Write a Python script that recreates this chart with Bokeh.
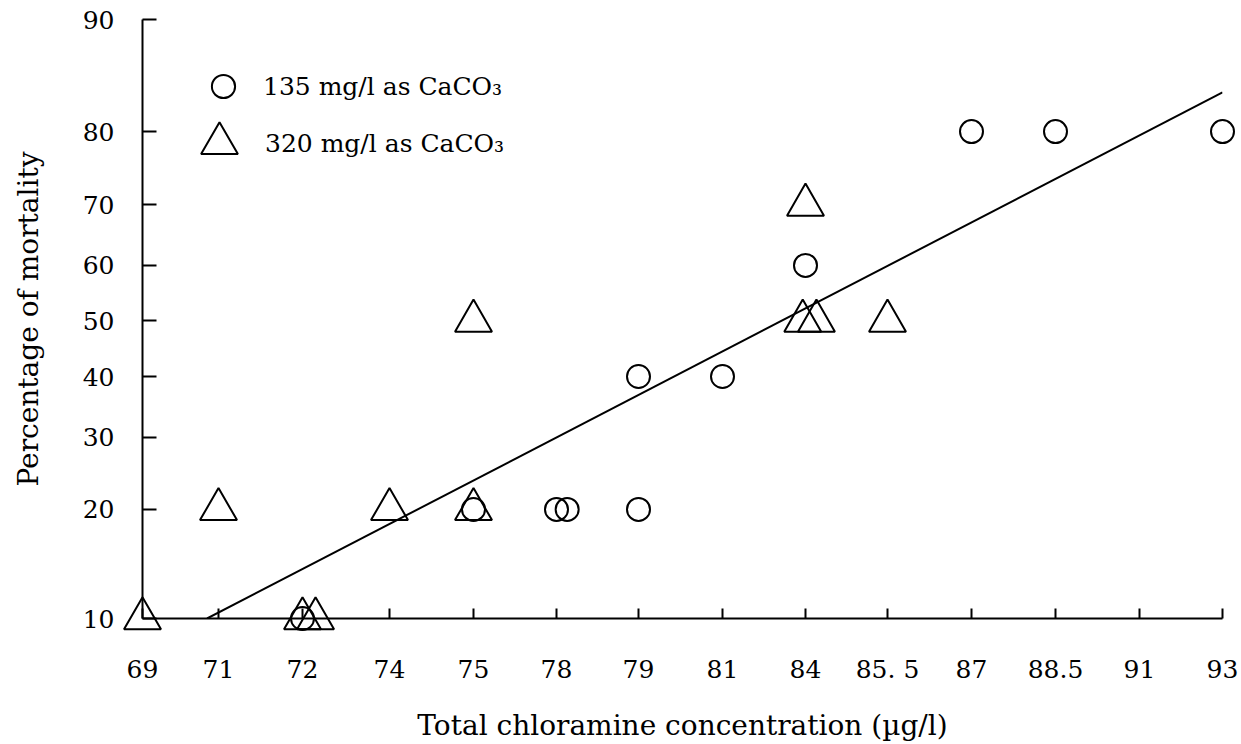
import numpy as np
from bokeh.plotting import figure
from bokeh.models import Range1d, FixedTicker, Legend, LegendItem
from bokeh.embed import file_html
from bokeh.resources import INLINE

# ---- data ----
X_TICK_VALUES = [69, 71, 72, 74, 75, 78, 79, 81, 84, 85.5, 87, 88.5, 91, 93]
X_TICK_LABELS = ["69", "71", "72", "74", "75", "78", "79", "81", "84",
                 "85. 5", "87", "88.5", "91", "93"]
Y_TICK_VALUES = [10, 20, 30, 40, 50, 60, 70, 80, 90]
Y_TICK_LABELS = ["10", "20", "30", "40", "50", "60", "70", "80", "90"]

soft_x = [72.0, 75, 78, 78.13, 79, 79, 81, 84, 87, 88.5, 93]
soft_y = [10, 20, 20, 20, 20, 40, 40, 60, 80, 80, 80]

hard_x = [69, 71, 72, 72.3, 74, 75, 75, 83.9, 84, 84.2, 85.5]
hard_y = [10, 20, 10, 10, 20, 20, 50, 50, 70, 50, 50]

fit_x = [70.7, 93.0]
fit_y = [10, 83.5]

# ---- printed (non-linear) axis scales: position of each tick along its axis ----
X_AXIS_POS = [0, 76, 160, 247, 331, 414, 496, 580, 663, 745, 829, 913, 997, 1080]
Y_AXIS_POS = [0, 110, 183, 244, 300, 356, 417, 491, 604]


def sx(v):
    return np.interp(np.asarray(v, dtype=float), X_TICK_VALUES, X_AXIS_POS)


def sy(v):
    return np.interp(np.asarray(v, dtype=float), Y_TICK_VALUES, Y_AXIS_POS)


FONT = "DejaVu Serif"

p = figure(width=1241, height=744, output_backend="svg", toolbar_location=None,
           x_range=Range1d(X_AXIS_POS[0], X_AXIS_POS[-1]),
           y_range=Range1d(Y_AXIS_POS[0], Y_AXIS_POS[-1]),
           min_border_left=142, min_border_right=19,
           min_border_top=19, min_border_bottom=121)
p.outline_line_color = None
p.xgrid.grid_line_color = None
p.ygrid.grid_line_color = None
p.background_fill_color = "white"
p.border_fill_color = "white"

# regression line
p.line(sx(fit_x), sy(fit_y), line_color="black", line_width=2)

r_soft = p.scatter(sx(soft_x), sy(soft_y), marker="circle", size=23,
                   fill_color=None, line_color="black", line_width=2)
r_hard = p.scatter(sx(hard_x), sy(hard_y), marker="triangle", size=37,
                   fill_color=None, line_color="black", line_width=2)
for r in (r_soft, r_hard):
    r.level = "overlay"

# axes
xa = p.xaxis[0]
xa.ticker = FixedTicker(ticks=X_AXIS_POS)
xa.major_label_overrides = {pos: lab for pos, lab in zip(X_AXIS_POS, X_TICK_LABELS)}
xa.major_tick_in = 10
xa.major_tick_out = 0
xa.minor_tick_line_color = None
xa.major_label_standoff = 36
xa.axis_label = "Total chloramine concentration (\u00b5g/l)"
xa.axis_label_standoff = 22

ya = p.yaxis[0]
ya.ticker = FixedTicker(ticks=Y_AXIS_POS)
ya.major_label_overrides = {pos: lab for pos, lab in zip(Y_AXIS_POS, Y_TICK_LABELS)}
ya.major_tick_in = 14
ya.major_tick_out = 0
ya.minor_tick_line_color = None
ya.major_label_standoff = 28
ya.major_label_orientation = "horizontal"
ya.axis_label = "Percentage of mortality"
ya.axis_label_standoff = 35

for ax in (xa, ya):
    ax.axis_line_width = 2
    ax.axis_line_color = "black"
    ax.major_tick_line_width = 2
    ax.major_tick_line_color = "black"
    ax.major_label_text_font = FONT
    ax.major_label_text_font_size = "25px"
    ax.major_label_text_color = "black"
    ax.axis_label_text_font = FONT
    ax.axis_label_text_font_size = "28px"
    ax.axis_label_text_font_style = "normal"
    ax.axis_label_text_color = "black"

# legends (two, so each marker keeps its own size)
common = dict(padding=0, margin=0, spacing=0, border_line_color=None,
              background_fill_alpha=0, label_text_font=FONT,
              label_text_font_size="25px", label_text_color="black")
leg1 = Legend(items=[LegendItem(label="135 mg/l as CaCO\u2083", renderers=[r_soft])],
              location=(52, 503), glyph_width=58, glyph_height=58,
              label_standoff=11, **common)
leg2 = Legend(items=[LegendItem(label="320 mg/l as CaCO\u2083", renderers=[r_hard])],
              location=(31, 429), glyph_width=92, glyph_height=92,
              label_standoff=0, label_text_line_height=1.8, **common)
p.add_layout(leg1, "center")
p.add_layout(leg2, "center")

open("out.html", "w").write(file_html(p, INLINE))
